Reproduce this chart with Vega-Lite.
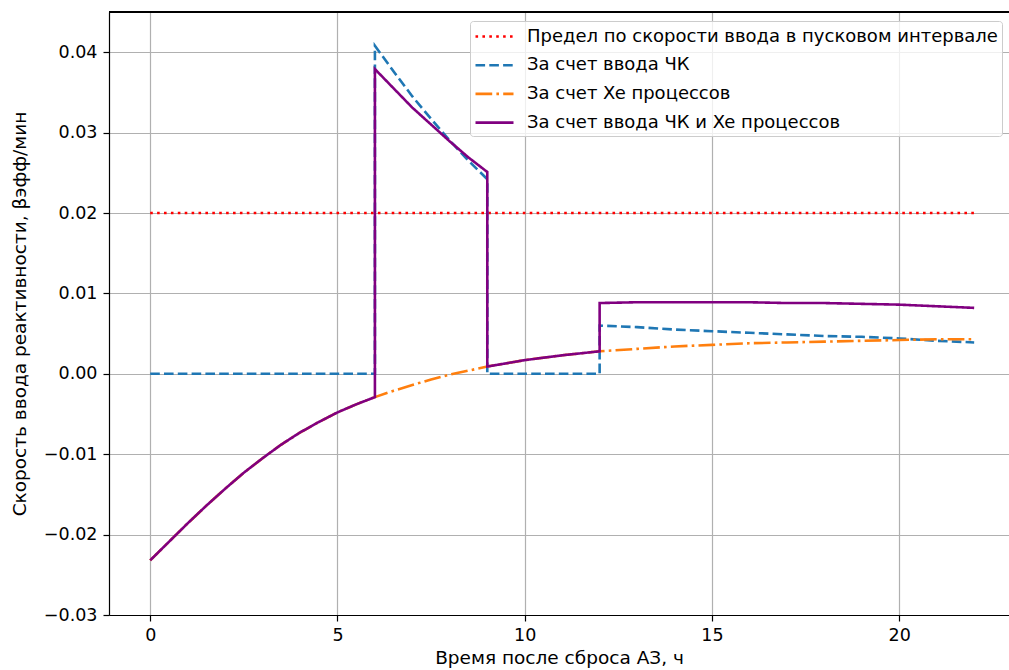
{
  "$schema": "https://vega.github.io/schema/vega-lite/v6.json",
  "autosize": {"type": "none"},
  "width": 900,
  "height": 603,
  "padding": {"left": 109, "top": 12, "right": 0, "bottom": 55},
  "background": "white",
  "config": {
    "font": "DejaVu Sans",
    "view": {"stroke": null},
    "axis": {
      "labelFont": "DejaVu Sans",
      "titleFont": "DejaVu Sans",
      "labelFontSize": 17.5,
      "titleFontSize": 18.5,
      "labelColor": "black",
      "titleColor": "black",
      "titleFontWeight": "normal",
      "domainColor": "black",
      "domainWidth": 1.2,
      "tickColor": "black",
      "tickWidth": 1.2,
      "tickSize": 6,
      "gridColor": "#b0b0b0",
      "gridWidth": 1.2
    },
    "legend": {
      "labelFont": "DejaVu Sans",
      "labelFontSize": 18,
      "labelColor": "black",
      "labelLimit": 700
    }
  },
  "data": {
    "values": [
      {"s": "Предел по скорости ввода в пусковом интервале", "i": 0, "t": 0, "v": 0.02},
      {"s": "Предел по скорости ввода в пусковом интервале", "i": 1, "t": 22, "v": 0.02},

      {"s": "За счет ввода ЧК", "i": 0, "t": 0, "v": 0},
      {"s": "За счет ввода ЧК", "i": 1, "t": 6, "v": 0},
      {"s": "За счет ввода ЧК", "i": 2, "t": 6, "v": 0.0408},
      {"s": "За счет ввода ЧК", "i": 3, "t": 6.5, "v": 0.0376},
      {"s": "За счет ввода ЧК", "i": 4, "t": 7, "v": 0.0345},
      {"s": "За счет ввода ЧК", "i": 5, "t": 7.5, "v": 0.0317},
      {"s": "За счет ввода ЧК", "i": 6, "t": 8, "v": 0.0290},
      {"s": "За счет ввода ЧК", "i": 7, "t": 8.5, "v": 0.0265},
      {"s": "За счет ввода ЧК", "i": 8, "t": 9, "v": 0.0242},
      {"s": "За счет ввода ЧК", "i": 9, "t": 9, "v": 0},
      {"s": "За счет ввода ЧК", "i": 10, "t": 12, "v": 0},
      {"s": "За счет ввода ЧК", "i": 11, "t": 12, "v": 0.0060},
      {"s": "За счет ввода ЧК", "i": 12, "t": 13, "v": 0.0058},
      {"s": "За счет ввода ЧК", "i": 13, "t": 14, "v": 0.0055},
      {"s": "За счет ввода ЧК", "i": 14, "t": 15, "v": 0.0053},
      {"s": "За счет ввода ЧК", "i": 15, "t": 16, "v": 0.0051},
      {"s": "За счет ввода ЧК", "i": 16, "t": 17, "v": 0.0049},
      {"s": "За счет ввода ЧК", "i": 17, "t": 18, "v": 0.0047},
      {"s": "За счет ввода ЧК", "i": 18, "t": 19, "v": 0.0046},
      {"s": "За счет ввода ЧК", "i": 19, "t": 20, "v": 0.0044},
      {"s": "За счет ввода ЧК", "i": 20, "t": 21, "v": 0.0041},
      {"s": "За счет ввода ЧК", "i": 21, "t": 22, "v": 0.0039},

      {"s": "За счет Xe процессов", "i": 0, "t": 0, "v": -0.0232},
      {"s": "За счет Xe процессов", "i": 1, "t": 0.5, "v": -0.0209},
      {"s": "За счет Xe процессов", "i": 2, "t": 1, "v": -0.0186},
      {"s": "За счет Xe процессов", "i": 3, "t": 1.5, "v": -0.0164},
      {"s": "За счет Xe процессов", "i": 4, "t": 2, "v": -0.0143},
      {"s": "За счет Xe процессов", "i": 5, "t": 2.5, "v": -0.0123},
      {"s": "За счет Xe процессов", "i": 6, "t": 3, "v": -0.0105},
      {"s": "За счет Xe процессов", "i": 7, "t": 3.5, "v": -0.0088},
      {"s": "За счет Xe процессов", "i": 8, "t": 4, "v": -0.0073},
      {"s": "За счет Xe процессов", "i": 9, "t": 4.5, "v": -0.0060},
      {"s": "За счет Xe процессов", "i": 10, "t": 5, "v": -0.0048},
      {"s": "За счет Xe процессов", "i": 11, "t": 5.5, "v": -0.0038},
      {"s": "За счет Xe процессов", "i": 12, "t": 6, "v": -0.0029},
      {"s": "За счет Xe процессов", "i": 13, "t": 6.5, "v": -0.0021},
      {"s": "За счет Xe процессов", "i": 14, "t": 7, "v": -0.0014},
      {"s": "За счет Xe процессов", "i": 15, "t": 7.5, "v": -0.0007},
      {"s": "За счет Xe процессов", "i": 16, "t": 8, "v": -0.0001},
      {"s": "За счет Xe процессов", "i": 17, "t": 8.5, "v": 0.0004},
      {"s": "За счет Xe процессов", "i": 18, "t": 9, "v": 0.0009},
      {"s": "За счет Xe процессов", "i": 19, "t": 10, "v": 0.0017},
      {"s": "За счет Xe процессов", "i": 20, "t": 11, "v": 0.0023},
      {"s": "За счет Xe процессов", "i": 21, "t": 12, "v": 0.0028},
      {"s": "За счет Xe процессов", "i": 22, "t": 13, "v": 0.0031},
      {"s": "За счет Xe процессов", "i": 23, "t": 14, "v": 0.0034},
      {"s": "За счет Xe процессов", "i": 24, "t": 15, "v": 0.0036},
      {"s": "За счет Xe процессов", "i": 25, "t": 16, "v": 0.0038},
      {"s": "За счет Xe процессов", "i": 26, "t": 17, "v": 0.0039},
      {"s": "За счет Xe процессов", "i": 27, "t": 18, "v": 0.0040},
      {"s": "За счет Xe процессов", "i": 28, "t": 19, "v": 0.0041},
      {"s": "За счет Xe процессов", "i": 29, "t": 20, "v": 0.0042},
      {"s": "За счет Xe процессов", "i": 30, "t": 21, "v": 0.0043},
      {"s": "За счет Xe процессов", "i": 31, "t": 22, "v": 0.0043},

      {"s": "За счет ввода ЧК и Xe процессов", "i": 0, "t": 0, "v": -0.0232},
      {"s": "За счет ввода ЧК и Xe процессов", "i": 1, "t": 0.5, "v": -0.0209},
      {"s": "За счет ввода ЧК и Xe процессов", "i": 2, "t": 1, "v": -0.0186},
      {"s": "За счет ввода ЧК и Xe процессов", "i": 3, "t": 1.5, "v": -0.0164},
      {"s": "За счет ввода ЧК и Xe процессов", "i": 4, "t": 2, "v": -0.0143},
      {"s": "За счет ввода ЧК и Xe процессов", "i": 5, "t": 2.5, "v": -0.0123},
      {"s": "За счет ввода ЧК и Xe процессов", "i": 6, "t": 3, "v": -0.0105},
      {"s": "За счет ввода ЧК и Xe процессов", "i": 7, "t": 3.5, "v": -0.0088},
      {"s": "За счет ввода ЧК и Xe процессов", "i": 8, "t": 4, "v": -0.0073},
      {"s": "За счет ввода ЧК и Xe процессов", "i": 9, "t": 4.5, "v": -0.0060},
      {"s": "За счет ввода ЧК и Xe процессов", "i": 10, "t": 5, "v": -0.0048},
      {"s": "За счет ввода ЧК и Xe процессов", "i": 11, "t": 5.5, "v": -0.0038},
      {"s": "За счет ввода ЧК и Xe процессов", "i": 12, "t": 6, "v": -0.0029},
      {"s": "За счет ввода ЧК и Xe процессов", "i": 13, "t": 6, "v": 0.0379},
      {"s": "За счет ввода ЧК и Xe процессов", "i": 14, "t": 6.5, "v": 0.0355},
      {"s": "За счет ввода ЧК и Xe процессов", "i": 15, "t": 7, "v": 0.0331},
      {"s": "За счет ввода ЧК и Xe процессов", "i": 16, "t": 7.5, "v": 0.0310},
      {"s": "За счет ввода ЧК и Xe процессов", "i": 17, "t": 8, "v": 0.0289},
      {"s": "За счет ввода ЧК и Xe процессов", "i": 18, "t": 8.5, "v": 0.0269},
      {"s": "За счет ввода ЧК и Xe процессов", "i": 19, "t": 9, "v": 0.0251},
      {"s": "За счет ввода ЧК и Xe процессов", "i": 20, "t": 9, "v": 0.0009},
      {"s": "За счет ввода ЧК и Xe процессов", "i": 21, "t": 10, "v": 0.0017},
      {"s": "За счет ввода ЧК и Xe процессов", "i": 22, "t": 11, "v": 0.0023},
      {"s": "За счет ввода ЧК и Xe процессов", "i": 23, "t": 12, "v": 0.0028},
      {"s": "За счет ввода ЧК и Xe процессов", "i": 24, "t": 12, "v": 0.0088},
      {"s": "За счет ввода ЧК и Xe процессов", "i": 25, "t": 13, "v": 0.0089},
      {"s": "За счет ввода ЧК и Xe процессов", "i": 26, "t": 14, "v": 0.0089},
      {"s": "За счет ввода ЧК и Xe процессов", "i": 27, "t": 15, "v": 0.0089},
      {"s": "За счет ввода ЧК и Xe процессов", "i": 28, "t": 16, "v": 0.0089},
      {"s": "За счет ввода ЧК и Xe процессов", "i": 29, "t": 17, "v": 0.0088},
      {"s": "За счет ввода ЧК и Xe процессов", "i": 30, "t": 18, "v": 0.0088},
      {"s": "За счет ввода ЧК и Xe процессов", "i": 31, "t": 19, "v": 0.0087},
      {"s": "За счет ввода ЧК и Xe процессов", "i": 32, "t": 20, "v": 0.0086},
      {"s": "За счет ввода ЧК и Xe процессов", "i": 33, "t": 21, "v": 0.0084},
      {"s": "За счет ввода ЧК и Xe процессов", "i": 34, "t": 22, "v": 0.0082}
    ]
  },
  "layer": [
    {
      "encoding": {
        "x": {
          "field": "t", "type": "quantitative",
          "scale": {"domain": [-1.1, 22.93], "nice": false, "zero": false},
          "axis": {"values": [0, 5, 10, 15, 20], "title": "Время после сброса АЗ, ч", "labelPadding": 5, "titlePadding": 5, "grid": true}
        },
        "y": {
          "field": "v", "type": "quantitative",
          "scale": {"domain": [-0.03, 0.045], "nice": false, "zero": false},
          "axis": {
            "values": [-0.03, -0.02, -0.01, 0, 0.01, 0.02, 0.03, 0.04],
            "format": ".2f",
            "labelExpr": "replace(datum.label, '-', '−')",
            "title": "Скорость ввода реактивности, βэфф/мин",
            "labelPadding": 6,
            "titlePadding": 14,
            "grid": true
          }
        },
        "color": {
          "field": "s", "type": "nominal",
          "scale": {
            "domain": ["Предел по скорости ввода в пусковом интервале", "За счет ввода ЧК", "За счет Xe процессов", "За счет ввода ЧК и Xe процессов"],
            "range": ["#ff0000", "#1f77b4", "#ff7f0e", "#800080"]
          },
          "legend": {
            "title": null,
            "orient": "none",
            "legendX": 361,
            "legendY": 9,
            "symbolType": "M-1,0H2.8",
            "symbolSize": 400,
            "symbolStrokeWidth": 2.6,
            "rowPadding": 7.7,
            "labelOffset": 30,
            "padding": 4,
            "fillColor": "rgba(255,255,255,0.8)",
            "strokeColor": "#cccccc",
            "cornerRadius": 3
          }
        },
        "strokeDash": {
          "field": "s", "type": "nominal",
          "scale": {
            "domain": ["Предел по скорости ввода в пусковом интервале", "За счет ввода ЧК", "За счет Xe процессов", "За счет ввода ЧК и Xe процессов"],
            "range": [[2.6, 4.3], [9.6, 4.2], [16.7, 4.2, 2.6, 4.2], [1, 0]]
          },
          "legend": null
        },
        "order": {"field": "i", "type": "quantitative"}
      },
      "layer": [
        {"transform": [{"filter": "datum.s === 'Предел по скорости ввода в пусковом интервале'"}], "mark": {"type": "line", "strokeWidth": 2.6}},
        {"transform": [{"filter": "datum.s === 'За счет ввода ЧК'"}], "mark": {"type": "line", "strokeWidth": 2.6}},
        {"transform": [{"filter": "datum.s === 'За счет Xe процессов'"}], "mark": {"type": "line", "strokeWidth": 2.6}},
        {"transform": [{"filter": "datum.s === 'За счет ввода ЧК и Xe процессов'"}], "mark": {"type": "line", "strokeWidth": 2.6}}
      ]
    },
    {
      "mark": {"type": "rule", "color": "black", "strokeWidth": 1.2},
      "encoding": {"y": {"datum": 0.045}}
    }
  ]
}
